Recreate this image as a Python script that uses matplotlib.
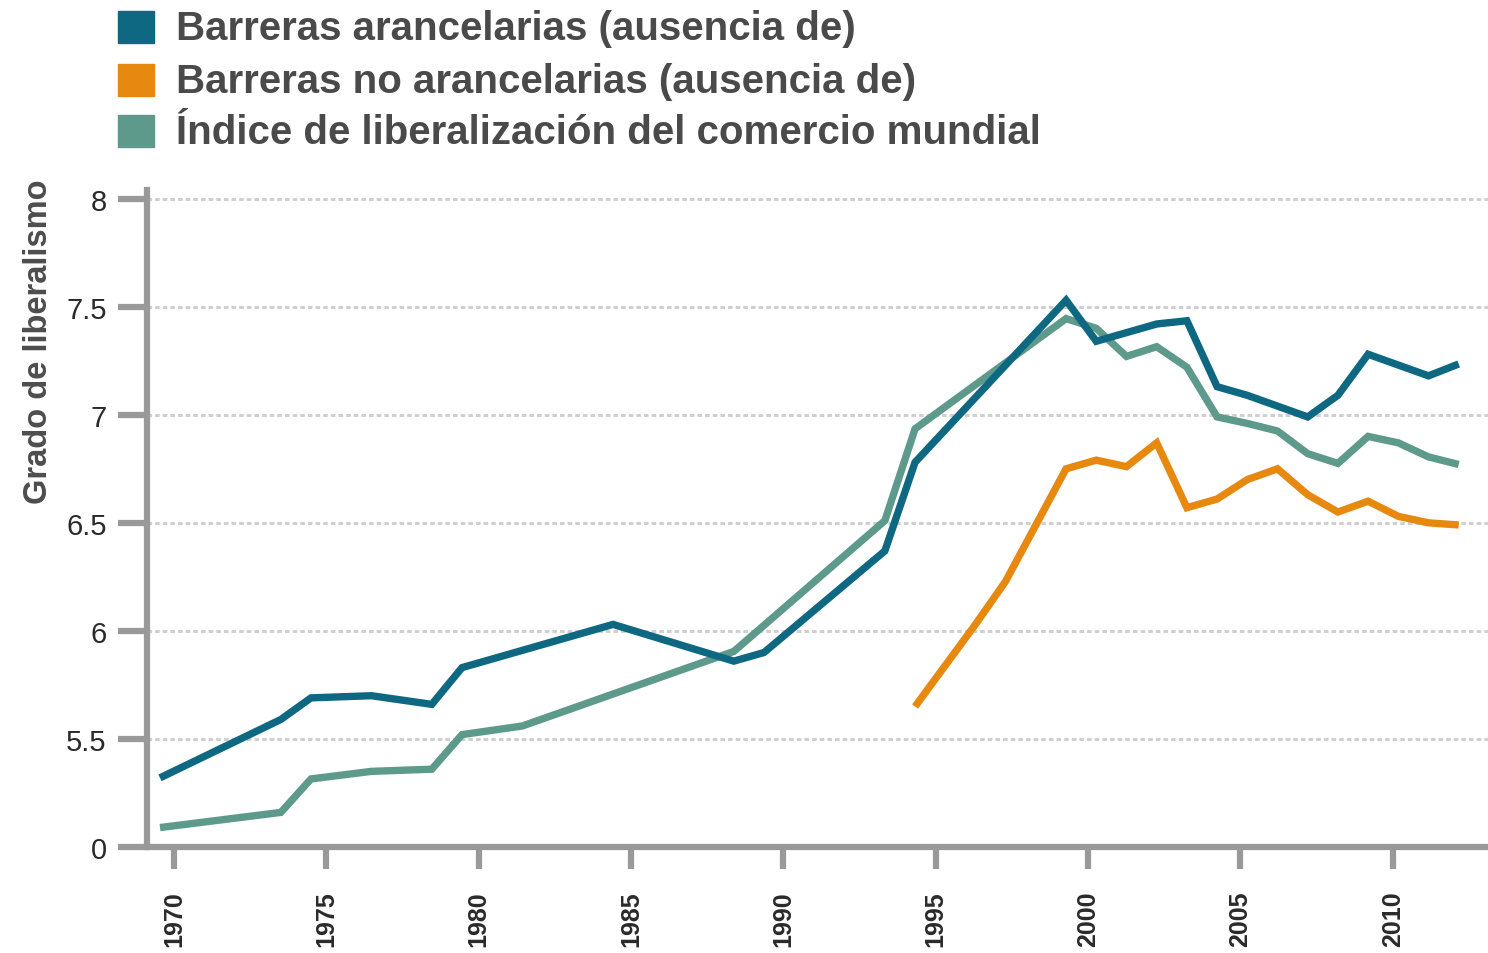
import matplotlib
matplotlib.use('Agg')
import matplotlib.pyplot as plt
from matplotlib.patches import Rectangle

# Datos
years_aranc = [1970, 1974, 1975, 1977, 1979, 1980, 1985, 1989, 1990, 1994, 1995,
               2000, 2001, 2002, 2003, 2004, 2005, 2006, 2007, 2008, 2009, 2010,
               2011, 2012, 2013]
arancelarias = [5.32, 5.59, 5.69, 5.70, 5.66, 5.83, 6.03, 5.86, 5.90, 6.37, 6.78,
                7.53, 7.34, 7.38, 7.42, 7.435, 7.13, 7.09, 7.04, 6.99, 7.09, 7.28,
                7.23, 7.18, 7.235]

years_no_aranc = [1995, 1996, 1997, 1998, 1999, 2000, 2001, 2002, 2003, 2004, 2005,
                  2006, 2007, 2008, 2009, 2010, 2011, 2012, 2013]
no_arancelarias = [5.65, 5.84, 6.03, 6.23, 6.49, 6.75, 6.79, 6.76, 6.87, 6.57, 6.61,
                   6.70, 6.75, 6.63, 6.55, 6.60, 6.53, 6.50, 6.49]

years_indice = [1970, 1974, 1975, 1977, 1979, 1980, 1982, 1989, 1994, 1995, 2000,
                2001, 2002, 2003, 2004, 2005, 2006, 2007, 2008, 2009, 2010, 2011,
                2012, 2013]
indice = [5.09, 5.16, 5.315, 5.35, 5.36, 5.52, 5.56, 5.905, 6.51, 6.935, 7.445,
          7.40, 7.27, 7.315, 7.22, 6.99, 6.96, 6.925, 6.82, 6.775, 6.90, 6.87,
          6.805, 6.77]

tick_years = [1970, 1975, 1980, 1985, 1990, 1995, 2000, 2005, 2010]
ytick_vals = [5, 5.5, 6, 6.5, 7, 7.5, 8]
ytick_labels = ['0', '5.5', '6', '6.5', '7', '7.5', '8']

labels = ['Barreras arancelarias (ausencia de)',
          'Barreras no arancelarias (ausencia de)',
          'Índice de liberalización del comercio mundial']
colors = ['#0f6882', '#e8890f', '#5e9a8b']

plt.rcParams['font.family'] = ['Liberation Sans', 'DejaVu Sans']

W, H = 1488, 954
fig = plt.figure(figsize=(W / 100, H / 100), dpi=100)
ax = fig.add_axes([147 / W, 1 - 848 / H, (W - 147) / W, (848 - 191) / H])

ax.plot(years_indice, indice, color=colors[2], lw=5.3, solid_joinstyle='miter', solid_capstyle='butt', zorder=3)
ax.plot(years_no_aranc, no_arancelarias, color=colors[1], lw=5.3, solid_joinstyle='miter', solid_capstyle='butt', zorder=4)
ax.plot(years_aranc, arancelarias, color=colors[0], lw=5.3, solid_joinstyle='miter', solid_capstyle='butt', zorder=5)

ax.set_xlim(1969.57, 2013.97)
ax.set_ylim(5, 8.04)

# las marcas del eje x no coinciden exactamente con los puntos de datos
ax.set_xticks([t + 0.46 + 0.009 * (t - 1970) for t in tick_years])
ax.set_xticklabels([str(t) for t in tick_years], rotation=90, fontsize=18,
                   fontweight='bold', color='#2a2a2a', va='top')
ax.set_yticks(ytick_vals)
ax.set_yticklabels(ytick_labels, fontsize=21, color='#2a2a2a')

ax.yaxis.grid(True, color='#d0d0d0', lw=2.2, linestyle=(0, (1.5, 1)))
ax.set_axisbelow(True)

for side in ['top', 'right']:
    ax.spines[side].set_visible(False)
for side in ['left', 'bottom']:
    ax.spines[side].set_color('#999999')
    ax.spines[side].set_linewidth(4.5)
ax.spines['bottom'].set_capstyle('butt')
ax.tick_params(axis='y', length=21, width=4.5, color='#999999', pad=8)
ax.tick_params(axis='x', length=16, width=4.5, color='#999999', pad=15)

ax.set_ylabel('Grado de liberalismo', fontsize=23.5, fontweight='bold', color='#4d4d4d')
ax.yaxis.set_label_coords(-93 / (W - 147), (848 - 342) / (848 - 191))

# leyenda manual arriba a la izquierda
for i, (lab, col) in enumerate(zip(labels, colors)):
    yc = [28, 81, 132][i]
    fig.patches.append(Rectangle((118 / W, 1 - (yc + 16) / H), 36 / W, 32 / H,
                                 transform=fig.transFigure, color=col))
    fig.text(176 / W, 1 - (yc + 1) / H, lab, fontsize=29, fontweight='bold',
             color='#4a4a4a', va='center', ha='left')

fig.savefig('out.png', dpi=100, facecolor='white')
